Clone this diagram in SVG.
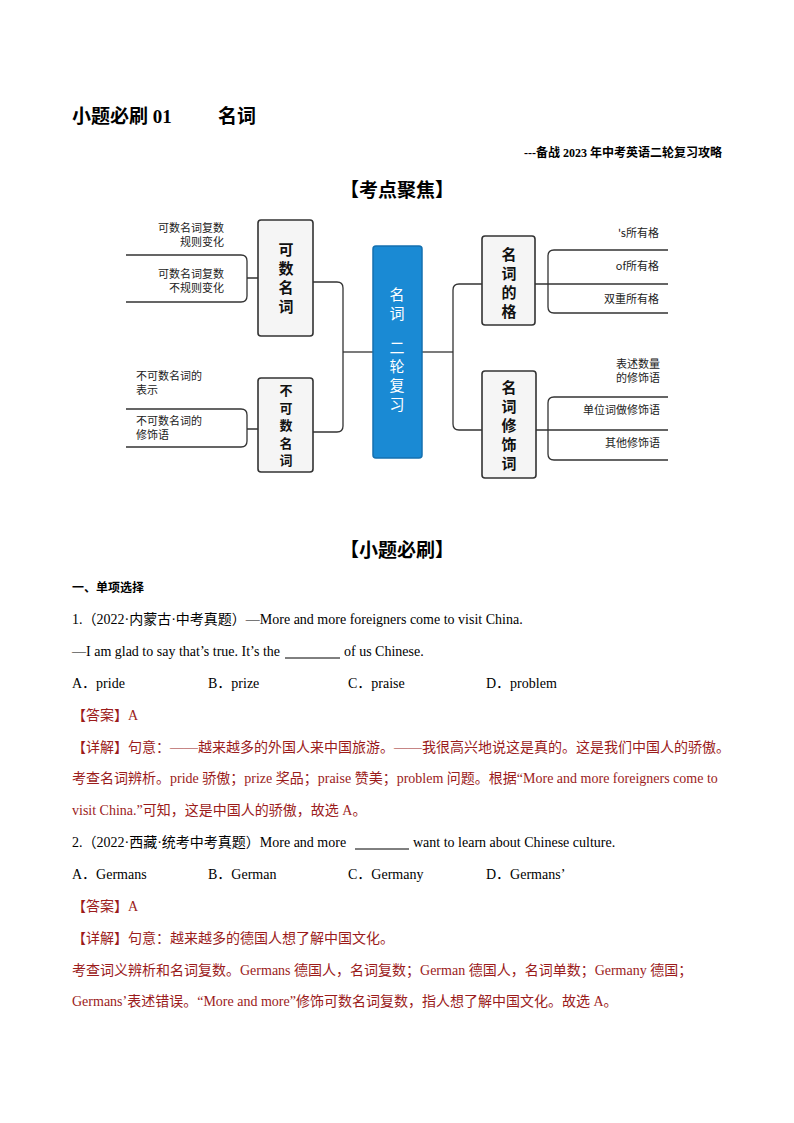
<svg xmlns="http://www.w3.org/2000/svg" width="794" height="1123" viewBox="0 0 794 1123">
<style>
.t{font-family:"Liberation Serif","Noto Sans CJK SC",serif;font-size:14px;fill:#000}
.r{fill:#9b1b1b}
.b{font-weight:bold}
.s{font-family:"Noto Sans CJK SC",sans-serif;font-size:11px;fill:#222}
.nb{fill:#f5f5f5;stroke:#333;stroke-width:1.6}
.nt{font-family:"Noto Sans CJK SC",sans-serif;font-size:15px;font-weight:bold;fill:#111;text-anchor:middle}
.ln{fill:none;stroke:#333;stroke-width:1.3}
</style>
<rect width="794" height="1123" fill="#fff"/>
<text class="t b" x="72" y="123" style="font-size:19px">小题必刷 01<tspan x="218">名词</tspan></text>
<text class="t b" x="722" y="157" text-anchor="end" style="font-size:12px">---备战 2023 年中考英语二轮复习攻略</text>
<text class="t b" x="397" y="197" text-anchor="middle" style="font-size:19px">【考点聚焦】</text>

<g id="connectors">
<path class="ln" d="M313 282 H337 Q343 282 343 288 V426 Q343 432 337 432 H313"/>
<path class="ln" d="M343 352 H373"/>
<path class="ln" d="M422 352 H453"/>
<path class="ln" d="M482 284 H459 Q453 284 453 290 V424 Q453 430 459 430 H482"/>
<path class="ln" d="M126 255 H241 Q247 255 247 261 V296 Q247 302 241 302 H126 M247 278 H258"/>
<path class="ln" d="M126 409 H241 Q247 409 247 415 V441 Q247 447 241 447 H126 M247 429 H258"/>
<path class="ln" d="M668 250 H554 Q548 250 548 256 V307 Q548 313 554 313 H668 M535 284 H668"/>
<path class="ln" d="M668 397 H554 Q548 397 548 403 V454 Q548 460 554 460 H668 M536 430 H668"/>
</g>
<g id="n-left1"><rect class="nb" x="258" y="220" width="55" height="116" rx="3"/><text class="nt" x="286" y="255">可<tspan x="286" dy="19">数</tspan><tspan x="286" dy="19">名</tspan><tspan x="286" dy="19">词</tspan></text></g>
<g id="n-left2"><rect class="nb" x="258" y="378" width="55" height="94" rx="3"/><text class="nt" x="286" y="395" style="font-size:13px">不<tspan x="286" dy="17.5">可</tspan><tspan x="286" dy="17.5">数</tspan><tspan x="286" dy="17.5">名</tspan><tspan x="286" dy="17.5">词</tspan></text></g>
<g id="n-center"><rect x="373" y="246" width="49" height="212" rx="3" fill="#1a8ad4" stroke="#1470b0" stroke-width="1.5"/><text class="nt" x="397" y="300" style="fill:#fff;font-weight:normal">名<tspan x="397" dy="19">词</tspan><tspan x="397" dy="34">二</tspan><tspan x="397" dy="19">轮</tspan><tspan x="397" dy="19">复</tspan><tspan x="397" dy="19">习</tspan></text></g>
<g id="n-right1"><rect class="nb" x="482" y="236" width="53" height="89" rx="3"/><text class="nt" x="509" y="260">名<tspan x="509" dy="19">词</tspan><tspan x="509" dy="19">的</tspan><tspan x="509" dy="19">格</tspan></text></g>
<g id="n-right2"><rect class="nb" x="482" y="371" width="54" height="107" rx="3"/><text class="nt" x="509" y="393">名<tspan x="509" dy="19">词</tspan><tspan x="509" dy="19">修</tspan><tspan x="509" dy="19">饰</tspan><tspan x="509" dy="19">词</tspan></text></g>

<g id="leaves">
<text class="s" x="224" y="232" text-anchor="end">可数名词复数</text>
<text class="s" x="224" y="246" text-anchor="end">规则变化</text>
<text class="s" x="224" y="278" text-anchor="end">可数名词复数</text>
<text class="s" x="224" y="292" text-anchor="end">不规则变化</text>
<text class="s" x="136" y="380">不可数名词的</text>
<text class="s" x="136" y="394">表示</text>
<text class="s" x="136" y="425">不可数名词的</text>
<text class="s" x="136" y="439">修饰语</text>
<text class="s" x="659" y="237" text-anchor="end">'s所有格</text>
<text class="s" x="659" y="270" text-anchor="end">of所有格</text>
<text class="s" x="659" y="303" text-anchor="end">双重所有格</text>
<text class="s" x="660" y="368" text-anchor="end">表述数量</text>
<text class="s" x="660" y="382" text-anchor="end">的修饰语</text>
<text class="s" x="660" y="414" text-anchor="end">单位词做修饰语</text>
<text class="s" x="660" y="447" text-anchor="end">其他修饰语</text>
</g>

<text class="t b" x="397" y="557" text-anchor="middle" style="font-size:19px">【小题必刷】</text>
<text class="t b" x="72" y="592" style="font-size:12px">一、单项选择</text>
<text class="t" x="72" y="624">1.（2022·内蒙古·中考真题）—More and more foreigners come to visit China.</text>
<text class="t" x="72" y="656">—I am glad to say that’s true. It’s the</text>
<line x1="285" y1="658" x2="340" y2="658" stroke="#000" stroke-width="1"/>
<text class="t" x="344" y="656">of us Chinese.</text>
<text class="t" x="72" y="688">A．pride</text><text class="t" x="208" y="688">B．prize</text><text class="t" x="348" y="688">C．praise</text><text class="t" x="486" y="688">D．problem</text>
<text class="t r" x="72" y="720">【答案】A</text>
<text class="t r" x="72" y="752">【详解】句意：——越来越多的外国人来中国旅游。——我很高兴地说这是真的。这是我们中国人的骄傲。</text>
<text class="t r" x="72" y="783">考查名词辨析。pride 骄傲；prize 奖品；praise 赞美；problem 问题。根据“More and more foreigners come to</text>
<text class="t r" x="72" y="815">visit China.”可知，这是中国人的骄傲，故选 A。</text>
<text class="t" x="72" y="847">2.（2022·西藏·统考中考真题）More and more</text>
<line x1="355" y1="849" x2="409" y2="849" stroke="#000" stroke-width="1"/>
<text class="t" x="413" y="847">want to learn about Chinese culture.</text>
<text class="t" x="72" y="879">A．Germans</text><text class="t" x="208" y="879">B．German</text><text class="t" x="348" y="879">C．Germany</text><text class="t" x="486" y="879">D．Germans’</text>
<text class="t r" x="72" y="911">【答案】A</text>
<text class="t r" x="72" y="943">【详解】句意：越来越多的德国人想了解中国文化。</text>
<text class="t r" x="72" y="975">考查词义辨析和名词复数。Germans 德国人，名词复数；German 德国人，名词单数；Germany 德国；</text>
<text class="t r" x="72" y="1006">Germans’表述错误。“More and more”修饰可数名词复数，指人想了解中国文化。故选 A。</text>
</svg>
